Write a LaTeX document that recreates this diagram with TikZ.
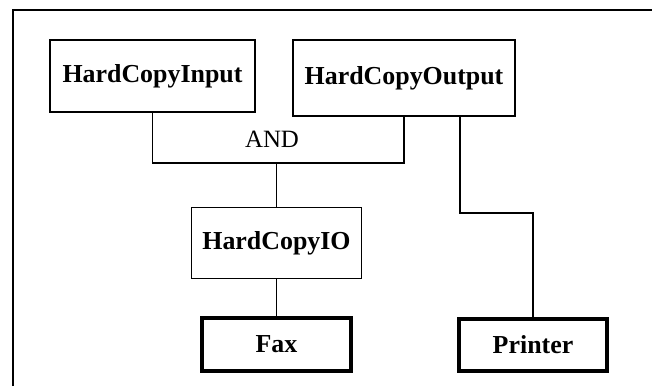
\documentclass[tikz,border=0pt]{standalone}
\usepackage{fontspec}
\setmainfont{Liberation Serif}
\begin{document}
\begin{tikzpicture}[x=1bp,y=-1bp,
  classbox/.style={draw,line width=1.5bp,inner sep=0pt,font=\fontsize{26}{30}\selectfont\bfseries},
  leafbox/.style={classbox,line width=4.5bp},
  link/.style={line width=1.5bp}]
  \useasboundingbox (0,0) rectangle (669,386);
  % frame
  \draw[line width=2bp] (13,386) -- (13,10) -- (652,10);
  % classes
  \node[classbox,minimum width=205bp,minimum height=72bp] (hci) at (152.5,76) {HardCopyInput};
  \node[classbox,minimum width=222bp,minimum height=76bp] (hco) at (404,78) {HardCopyOutput};
  \node[classbox,minimum width=170bp,minimum height=71bp] (hcio) at (276.5,243) {HardCopyIO};
  \node[leafbox,minimum width=149bp,minimum height=53bp] (fax) at (276.5,344.5) {Fax};
  \node[leafbox,minimum width=148bp,minimum height=52bp] (printer) at (533,345) {Printer};
  % AND junction
  \coordinate (andj) at (276.5,163);
  \node[font=\fontsize{25}{30}\selectfont] (andlbl) at (272,139) {AND};
  \draw[link] (hci.south) |- (andj) -| (hco.south);
  \draw[link] (andj) -- (hcio.north);
  \draw[link] (hcio.south) -- (fax.north);
  % printer route
  \coordinate (pj) at (460,213);
  \draw[link] (pj |- hco.south) -- (pj) -| (printer.north);
\end{tikzpicture}
\end{document}
